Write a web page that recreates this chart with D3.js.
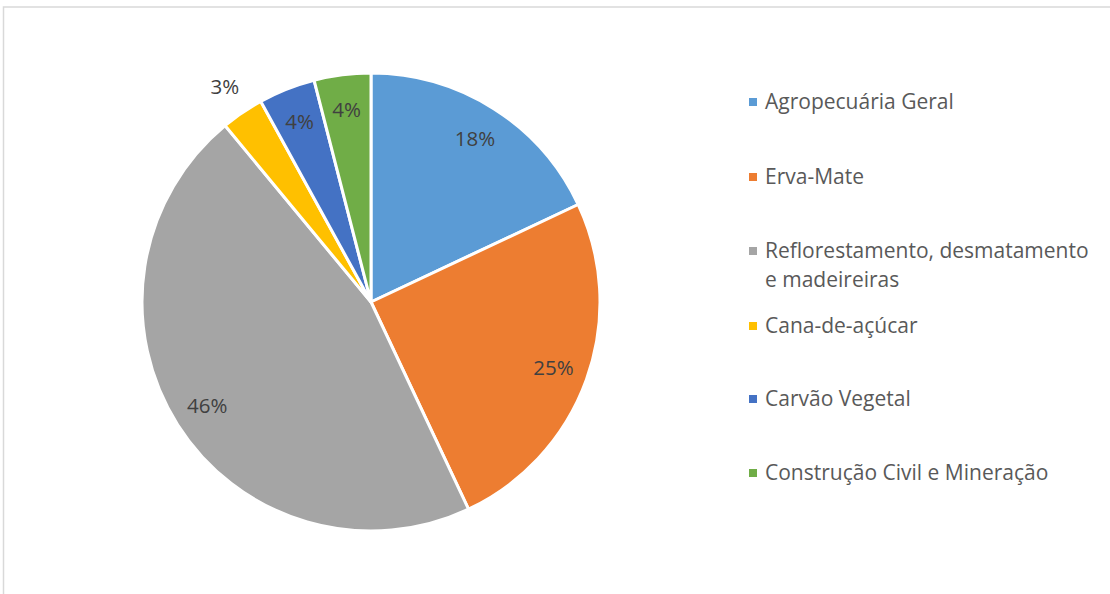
<!DOCTYPE html>
<html lang="pt">
<head>
<meta charset="UTF-8">
<title>Pie</title>
<style>
  body { margin: 0; background: #fff; }
  text { font-family: "Open Sans", "DejaVu Sans", sans-serif; }
</style>
</head>
<body>
<svg width="1110" height="594"></svg>
<script src="https://cdn.jsdelivr.net/npm/d3@7/dist/d3.min.js"></script>
<script>
// dados
var categories = ["Agropecuária Geral", "Erva-Mate", "Reflorestamento, desmatamento e madeireiras",
                  "Cana-de-açúcar", "Carvão Vegetal", "Construção Civil e Mineração"];
var values = [18, 25, 46, 3, 4, 4];
var colors = ["#5b9bd5", "#ed7d31", "#a5a5a5", "#ffc000", "#4472c4", "#70ad47"];
// rótulos da legenda em linhas
var legendLines = [["Agropecuária Geral"], ["Erva-Mate"], ["Reflorestamento, desmatamento", "e madeireiras"],
                   ["Cana-de-açúcar"], ["Carvão Vegetal"], ["Construção Civil e Mineração"]];

var svg = d3.select("svg");

// moldura
svg.append("rect")
  .attr("x", 3.5).attr("y", 7)
  .attr("width", 1120).attr("height", 600)
  .attr("fill", "none").attr("stroke", "#d9d9d9").attr("stroke-width", 1.5);

var cx = 371, cy = 302, radius = 229;
var g = svg.append("g").attr("transform", "translate(" + cx + "," + cy + ")");

var pie = d3.pie().sort(null).value(function(d){ return d; });
var arcs = pie(values);
var arc = d3.arc().innerRadius(0).outerRadius(radius);

g.selectAll("path")
  .data(arcs)
  .enter()
  .append("path")
  .attr("d", arc)
  .attr("fill", function(d, i){ return colors[i]; })
  .attr("stroke", "#fff")
  .attr("stroke-width", 3)
  .attr("stroke-linejoin", "round");

// rótulos de percentagem
var inArc = d3.arc().innerRadius(194).outerRadius(194);
var outArc = d3.arc().innerRadius(260).outerRadius(260);
g.selectAll("text.lbl")
  .data(arcs)
  .enter()
  .append("text")
  .attr("class", "lbl")
  .attr("transform", function(d){
    var p = (d.data < 4 ? outArc : inArc).centroid(d);
    return "translate(" + p[0] + "," + p[1] + ")";
  })
  .attr("text-anchor", "middle")
  .attr("dy", "0.36em")
  .attr("font-size", 20.5)
  .attr("fill", "#404040")
  .text(function(d){ return d.data + "%"; });

// legenda
var legendY = [102, 177, 251, 326, 399, 473];
var leg = svg.append("g");
var items = leg.selectAll("g")
  .data(categories)
  .enter()
  .append("g")
  .attr("transform", function(d, i){ return "translate(749," + legendY[i] + ")"; });

items.append("rect")
  .attr("x", 0).attr("y", -4)
  .attr("width", 8).attr("height", 8)
  .attr("fill", function(d, i){ return colors[i]; });

items.append("text")
  .attr("x", 16)
  .attr("y", 7)
  .attr("font-size", 21)
  .attr("fill", "#595959")
  .selectAll("tspan")
  .data(function(d, i){ return legendLines[i]; })
  .enter()
  .append("tspan")
  .attr("x", 16)
  .attr("dy", function(d, j){ return j === 0 ? 0 : 29; })
  .text(function(d){ return d; });
</script>
</body>
</html>
